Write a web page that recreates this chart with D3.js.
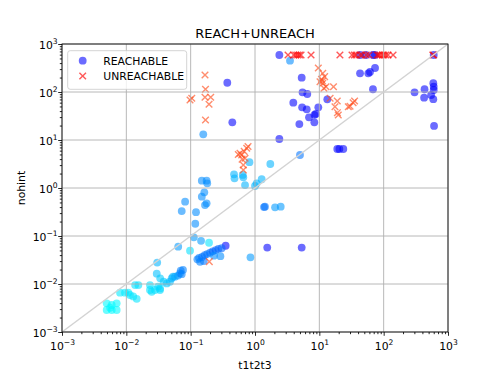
<!DOCTYPE html>
<html>
<head>
<meta charset="utf-8">
<script src="https://cdn.jsdelivr.net/npm/d3@7"></script>
<style>
body { margin: 0; background: #fff; }
svg { display: block; }
text { font-family: "DejaVu Sans", sans-serif; fill: #000; }
</style>
</head>
<body>
<svg width="498" height="374"></svg>
<script>
// rows: [t1t2t3, nohint, shade]  shade 0 = cyan ... 1 = blue
var reachable = [
  [0.00495,0.00396,0.02],[0.00593,0.00365,0.02],[0.00708,0.00396,0.02],[0.00495,0.00287,0.02],
  [0.00593,0.00287,0.02],[0.00708,0.00287,0.02],[0.0056,0.0032,0.02],[0.00798,0.00659,0.08],
  [0.00953,0.00659,0.08],[0.0107,0.0066,0.08],[0.0114,0.0059,0.1],[0.0128,0.0055,0.1],
  [0.0145,0.0049,0.1],[0.0137,0.0095,0.12],[0.0154,0.0095,0.12],[0.0233,0.0095,0.12],
  [0.0248,0.0069,0.12],[0.0279,0.0075,0.12],[0.0233,0.0075,0.12],[0.0311,0.0088,0.15],
  [0.0334,0.0081,0.15],[0.0334,0.0075,0.15],[0.0302,0.028,0.3],[0.0297,0.0164,0.25],
  [0.0336,0.0131,0.2],[0.038,0.0112,0.2],[0.0425,0.0103,0.22],[0.0477,0.0112,0.25],
  [0.0507,0.0131,0.3],[0.0531,0.0142,0.3],[0.0571,0.0142,0.35],[0.0636,0.015,0.4],
  [0.0683,0.0167,0.45],[0.0726,0.016,0.5],[0.076,0.0196,0.5],[0.07,0.019,0.5],
  [0.064,0.0598,0.4],[0.0977,0.0495,0.12],[0.112,0.094,0.4],[0.145,0.0792,0.4],
  [0.193,0.0724,0.1],[0.35,0.0627,1.0],[0.85,0.036,0.4],[0.127,0.0327,0.5],
  [0.135,0.035,0.5],[0.15,0.0365,0.55],[0.165,0.04,0.55],[0.18,0.042,0.55],
  [0.2,0.045,0.55],[0.22,0.048,0.6],[0.245,0.051,0.6],[0.27,0.054,0.6],
  [0.303,0.0555,0.6],[0.29,0.038,0.45],[0.23,0.039,0.45],[0.16,0.03,0.55],[0.14,0.029,0.5],
  [0.0726,0.33,0.45],[0.082,0.52,0.45],[0.121,0.313,0.45],[0.118,0.18,0.45],
  [0.149,1.42,0.45],[0.177,1.42,0.45],[0.181,1.25,0.45],[0.163,0.813,0.45],
  [0.149,0.659,0.45],[0.177,0.48,0.45],[0.167,0.44,0.45],[0.157,13.1,0.45],
  [0.472,1.93,0.3],[0.48,1.59,0.3],[0.644,1.87,0.3],[0.658,1.67,0.3],
  [0.7,1.15,0.3],[1.0,1.1,0.3],[1.06,1.25,0.3],[1.27,1.52,0.3],
  [0.82,3.45,0.3],[1.73,3.16,0.3],[5.0,4.87,0.55],[1.43,0.408,0.55],
  [1.38,0.4,0.55],[2.05,0.396,0.4],[2.51,0.408,0.4],[1.55,0.0575,1.0],
  [5.32,0.0575,1.0],[19.0,6.49,1.0],[20.5,6.49,1.0],[23.6,6.49,1.0],
  [0.371,156,1.0],[0.444,23.4,1.0],[2.39,10.5,1.0],[3.5,449,0.45],[2.39,590,1.0],
  [4.89,21.5,1.0],[5.32,199,1.0],[5.48,98.6,1.0],[6.5,90.9,1.0],[3.94,59.8,1.0],
  [5.4,48.0,1.0],[6.37,43.6,1.0],[9.64,48.0,1.0],[8.4,33.5,1.0],[8.8,35.0,1.0],
  [6.91,29.7,1.0],[8.36,23.4,1.0],[13.3,70.5,1.0],[42.9,245,1.0],[57.7,245,1.0],
  [61.3,261,1.0],[73.4,316,1.0],[68.2,114,1.0],[302,98.6,1.0],[432,114,1.0],
  [425,76.1,1.0],[547,86.6,1.0],[591,152,1.0],[600,129,1.0],[600,110,1.0],
  [591,71,1.0],[607,19.6,1.0],
  [42.9,590,1.0],[53.0,590,1.0],[68.0,590,1.0],[73.0,590,1.0],[600,590,1.0]
];

// rows: [t1t2t3, nohint, shade]  shade 0 = red (timeout row), 1 = orange
var unreachable = [
  [3.26,590,0],[4.0,590,0],[4.3,590,0],[4.6,590,0],[4.9,590,0],[5.2,590,0],[7.43,590,0],
  [20.9,590,0],[32.2,590,0],[35.0,590,0],[37.2,590,0],[42.9,590,0],[46.1,590,0],
  [53.6,590,0],[59.2,590,0],[78.9,590,0],[83.0,590,0],[87.8,590,0],[95.0,590,0],
  [101,590,0],[108,590,0],[117,590,0],[140,590,0],[580,590,0],[600,590,0],
  [0.0977,68.1,1],[0.104,73.9,1],[0.167,226,1],[0.17,114,1],[0.167,77.6,1],
  [0.205,77.6,1],[0.193,55.4,1],[0.17,26.1,1],
  [0.585,5.28,1],[0.621,4.87,1],[0.743,6.71,1],[0.7,4.16,1],[0.658,3.01,1],
  [0.658,2.37,1],[0.55,5.0,1],[0.68,5.8,1],[0.78,7.3,1],[0.63,4.0,1],
  [9.64,316,1],[11.3,245,1],[12.1,209,1],[10.8,184,1],[10.25,164,1],[11.3,152,1],
  [12.7,129,1],[11.8,120,1],[11.2,170,1],[16.6,129,1],[14.7,73.9,1],[19.0,64.9,1],
  [17.5,49.4,1],[19.1,37.1,1],[19.7,33.2,1],[30.0,50.5,1],[33.5,59.8,1],
  [35.3,64.9,1],[28.2,49.4,1],
  [0.195,0.0292,1]
];

var tickExps = [-3, -2, -1, 0, 1, 2, 3];
var legendLabels = ["REACHABLE", "UNREACHABLE"];
var chartTitle = "REACH+UNREACH";
var xLabel = "t1t2t3", yLabel = "nohint";

var svg = d3.select("svg");
var L = 62, R = 448, T = 44, B = 332;
var x = d3.scaleLog().domain([1e-3, 1e3]).range([L, R]);
var y = d3.scaleLog().domain([1e-3, 1e3]).range([B, T]);
var blueShade = d3.scaleLinear().domain([0, 1]).range(["#00ffff", "#0000ff"]);
var redShade = d3.scaleLinear().domain([0, 1]).range(["#ff0000", "#ff5020"]);

var majors = tickExps.map(function (e) { return Math.pow(10, e); });
var minors = [];
tickExps.slice(0, -1).forEach(function (e) {
  for (var k = 2; k < 10; k++) minors.push(k * Math.pow(10, e));
});

var xPath = "M-3.3,-3.3L3.3,3.3M-3.3,3.3L3.3,-3.3";

// points
svg.append("g").selectAll("circle").data(reachable).enter().append("circle")
  .attr("cx", function (d) { return x(d[0]); })
  .attr("cy", function (d) { return y(d[1]); })
  .attr("r", 3.9)
  .attr("fill", function (d) { return blueShade(d[2]); })
  .attr("fill-opacity", 0.58);

svg.append("g").selectAll("path").data(unreachable).enter().append("path")
  .attr("d", xPath)
  .attr("transform", function (d) { return "translate(" + x(d[0]) + "," + y(d[1]) + ")"; })
  .attr("fill", "none")
  .attr("stroke", function (d) { return redShade(d[2]); })
  .attr("stroke-opacity", 0.65)
  .attr("stroke-width", 1.4);

// grid
var grid = svg.append("g").attr("stroke", "#b0b0b0").attr("stroke-width", 0.9);
grid.selectAll(".gx").data(majors).enter().append("line")
  .attr("x1", x).attr("x2", x).attr("y1", T).attr("y2", B);
grid.selectAll(".gy").data(majors).enter().append("line")
  .attr("y1", y).attr("y2", y).attr("x1", L).attr("x2", R);

// diagonal
svg.append("line")
  .attr("x1", x(1e-3)).attr("y1", y(1e-3)).attr("x2", x(1e3)).attr("y2", y(1e3))
  .attr("stroke", "#d3d3d3").attr("stroke-width", 1.5);

// axes
function powLabel(sel) {
  sel.each(function (d) {
    var e = Math.round(Math.log10(d));
    var t = d3.select(this).text(null);
    t.append("tspan").text("10");
    t.append("tspan").attr("dy", -5).attr("font-size", 7.6)
      .text(e < 0 ? "\u2212" + (-e) : e);
  });
}

var gx = svg.append("g").attr("transform", "translate(0," + B + ")")
  .call(d3.axisBottom(x).tickValues(majors).tickSize(3.8).tickPadding(6.5));
svg.append("g").attr("transform", "translate(0," + B + ")")
  .call(d3.axisBottom(x).tickValues(minors).tickSize(2.2).tickFormat(""));
var gy = svg.append("g").attr("transform", "translate(" + L + ",0)")
  .call(d3.axisLeft(y).tickValues(majors).tickSize(3.8).tickPadding(0.6));
svg.append("g").attr("transform", "translate(" + L + ",0)")
  .call(d3.axisLeft(y).tickValues(minors).tickSize(2.2).tickFormat(""));

svg.selectAll(".domain").remove();
svg.selectAll(".tick line").attr("stroke", "#000").attr("stroke-width", 0.85);
gx.selectAll(".tick text").attr("font-size", 10.8).call(powLabel);
gy.selectAll(".tick text").attr("font-size", 10.8).attr("dy", "0.42em").call(powLabel);
svg.selectAll(".tick text").attr("font-family", "DejaVu Sans, sans-serif").attr("fill", "#000");

// spines
svg.append("rect").attr("x", L).attr("y", T).attr("width", R - L).attr("height", B - T)
  .attr("fill", "none").attr("stroke", "#000").attr("stroke-width", 0.85);

// labels
svg.append("text").attr("x", (L + R) / 2).attr("y", 38).attr("text-anchor", "middle")
  .attr("font-size", 13).text(chartTitle);
svg.append("text").attr("x", (L + R) / 2).attr("y", 369).attr("text-anchor", "middle")
  .attr("font-size", 10.8).text(xLabel);
svg.append("text").attr("transform", "translate(25," + (T + B) / 2 + ") rotate(-90)")
  .attr("text-anchor", "middle").attr("font-size", 10.8).text(yLabel);

// legend
var lg = svg.append("g");
lg.append("rect").attr("x", 67.7).attr("y", 50.7).attr("width", 119).attr("height", 38.6)
  .attr("rx", 2.5).attr("fill", "#fff").attr("fill-opacity", 0.8)
  .attr("stroke", "#cccccc").attr("stroke-width", 0.85);
var rows = lg.selectAll(".item").data(legendLabels).enter().append("g")
  .attr("transform", function (d, i) { return "translate(82.7," + (60.7 + i * 15.3) + ")"; });
rows.filter(function (d, i) { return i === 0; }).append("circle")
  .attr("r", 3.9).attr("fill", blueShade(1)).attr("fill-opacity", 0.58);
rows.filter(function (d, i) { return i === 1; }).append("path")
  .attr("d", xPath).attr("fill", "none").attr("stroke", redShade(0))
  .attr("stroke-opacity", 0.65).attr("stroke-width", 1.4);
rows.append("text").attr("x", 20.6).attr("y", 3.9).attr("font-size", 10.8)
  .text(function (d) { return d; });
</script>
</body>
</html>
